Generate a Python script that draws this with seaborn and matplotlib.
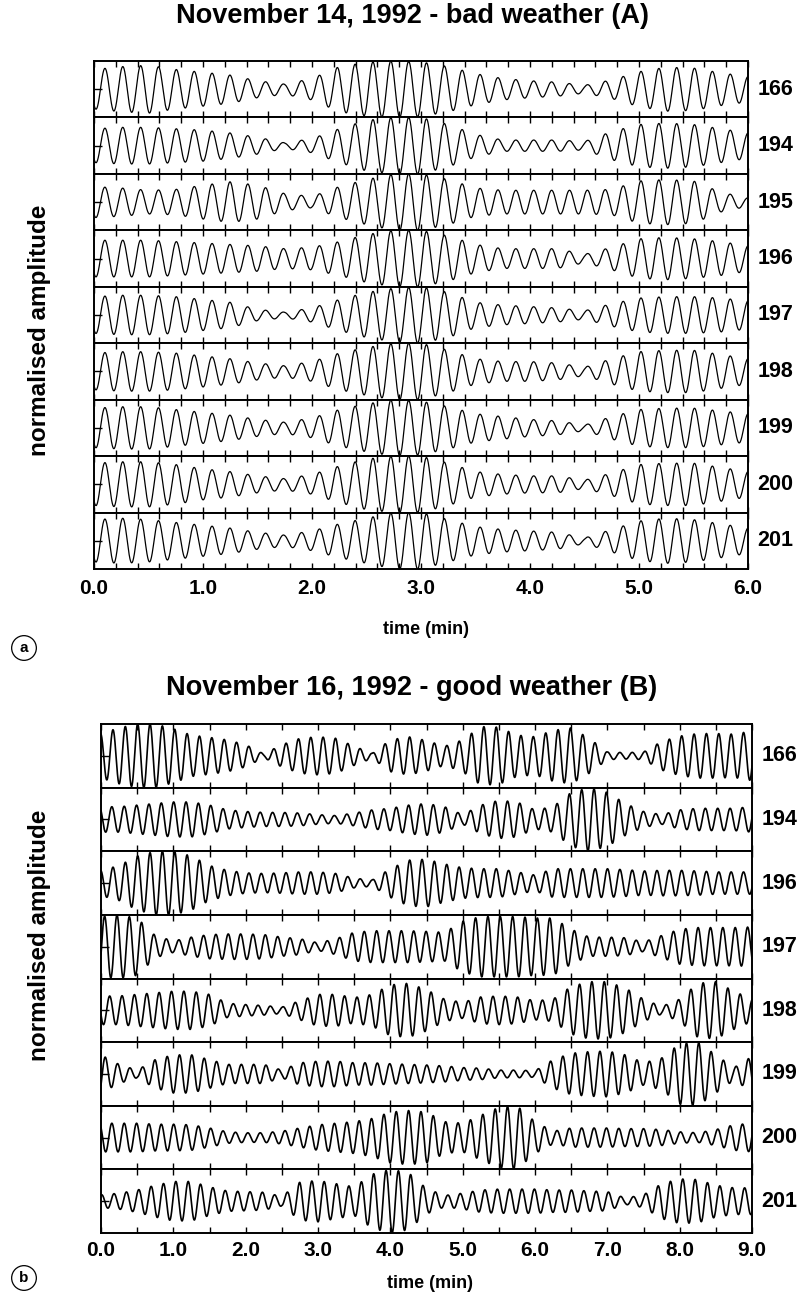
import numpy as np
import pandas as pd
import matplotlib
matplotlib.use("Agg")
import matplotlib.pyplot as plt
import seaborn as sns

sns.set_theme(style="white")
plt.rcParams['font.family'] = ['Liberation Sans', 'DejaVu Sans']
plt.rcParams['text.color'] = 'black'
plt.rcParams['axes.labelcolor'] = 'black'
plt.rcParams['xtick.color'] = 'black'
plt.rcParams['ytick.color'] = 'black'

# ---------------- Panel A : November 14, 1992 (bad weather) ----------------
title_a = "November 14, 1992 - bad weather (A)"
stations_a = ["166", "194", "195", "196", "197", "198", "199", "200", "201"]
times_a = np.linspace(0.0, 6.0, 25)          # envelope sample times (min)
freq_a = 6.1                                  # carrier, cycles per minute
first_peak_a = [0.10, 0.10, 0.10, 0.10, 0.10, 0.10, 0.10, 0.10, 0.10]

env_a_166 = [0.70, 0.80, 0.85, 0.70, 0.60, 0.50, 0.30, 0.18, 0.38, 0.80, 0.95, 1.00, 0.97,
             0.80, 0.55, 0.38, 0.30, 0.25, 0.14, 0.33, 0.62, 0.78, 0.75, 0.58, 0.45]
env_a_194 = [0.60, 0.65, 0.65, 0.60, 0.55, 0.45, 0.30, 0.10, 0.25, 0.60, 0.90, 1.00, 1.00,
             0.75, 0.40, 0.20, 0.20, 0.20, 0.15, 0.50, 0.75, 0.80, 0.75, 0.60, 0.45]
env_a_195 = [0.55, 0.50, 0.42, 0.45, 0.60, 0.72, 0.60, 0.30, 0.20, 0.55, 0.80, 1.00, 1.00,
             0.80, 0.50, 0.42, 0.42, 0.42, 0.42, 0.45, 0.75, 0.80, 0.75, 0.35, 0.15]
env_a_196 = [0.65, 0.65, 0.65, 0.60, 0.55, 0.50, 0.45, 0.35, 0.40, 0.60, 0.85, 1.00, 1.00,
             0.80, 0.50, 0.35, 0.35, 0.35, 0.15, 0.40, 0.70, 0.75, 0.70, 0.60, 0.45]
env_a_197 = [0.65, 0.70, 0.70, 0.65, 0.55, 0.45, 0.20, 0.10, 0.25, 0.55, 0.80, 0.95, 1.00,
             0.80, 0.45, 0.35, 0.30, 0.25, 0.15, 0.40, 0.60, 0.65, 0.65, 0.60, 0.50]
env_a_198 = [0.65, 0.70, 0.70, 0.65, 0.55, 0.45, 0.30, 0.20, 0.35, 0.65, 0.85, 1.00, 1.00,
             0.75, 0.45, 0.35, 0.35, 0.30, 0.15, 0.45, 0.70, 0.75, 0.75, 0.60, 0.45]
env_a_199 = [0.70, 0.75, 0.75, 0.65, 0.55, 0.45, 0.30, 0.20, 0.35, 0.65, 0.85, 1.00, 0.95,
             0.75, 0.50, 0.40, 0.30, 0.25, 0.10, 0.40, 0.65, 0.70, 0.70, 0.60, 0.50]
env_a_200 = [0.75, 0.80, 0.80, 0.70, 0.55, 0.45, 0.30, 0.20, 0.35, 0.65, 0.90, 1.00, 1.00,
             0.75, 0.45, 0.35, 0.30, 0.30, 0.15, 0.40, 0.70, 0.75, 0.75, 0.60, 0.45]
env_a_201 = [0.75, 0.80, 0.75, 0.65, 0.55, 0.45, 0.30, 0.20, 0.35, 0.60, 0.80, 1.00, 1.00,
             0.75, 0.50, 0.40, 0.35, 0.30, 0.10, 0.40, 0.70, 0.80, 0.75, 0.60, 0.45]
envs_a = [env_a_166, env_a_194, env_a_195, env_a_196, env_a_197,
          env_a_198, env_a_199, env_a_200, env_a_201]
xticks_a = [0.0, 1.0, 2.0, 3.0, 4.0, 5.0, 6.0]

# ---------------- Panel B : November 16, 1992 (good weather) ----------------
title_b = "November 16, 1992 - good weather (B)"
stations_b = ["166", "194", "196", "197", "198", "199", "200", "201"]
times_b = np.linspace(0.0, 9.0, 37)
freq_b = 5.85
first_peak_b = [0.165, 0.15, 0.165, 0.05, 0.12, 0.06, 0.15, 0.18]

env_b_166 = [0.70, 0.88, 1.00, 1.00, 0.85, 0.65, 0.58, 0.50, 0.35, 0.06, 0.35, 0.55, 0.60,
             0.55, 0.30, 0.08, 0.50, 0.60, 0.48, 0.30, 0.50, 0.92, 0.90, 0.65, 0.60, 0.80,
             0.88, 0.55, 0.12, 0.10, 0.12, 0.45, 0.62, 0.70, 0.70, 0.68, 0.78]
env_b_194 = [0.40, 0.40, 0.45, 0.50, 0.55, 0.55, 0.45, 0.30, 0.25, 0.22, 0.22, 0.20, 0.15,
             0.12, 0.20, 0.30, 0.35, 0.45, 0.50, 0.40, 0.15, 0.45, 0.60, 0.55, 0.30, 0.40,
             0.85, 1.00, 0.85, 0.50, 0.25, 0.15, 0.30, 0.35, 0.35, 0.35, 0.40]
env_b_196 = [0.40, 0.55, 0.85, 1.00, 1.00, 0.85, 0.55, 0.40, 0.32, 0.30, 0.32, 0.35, 0.35,
             0.30, 0.15, 0.10, 0.45, 0.72, 0.75, 0.60, 0.48, 0.45, 0.45, 0.35, 0.25, 0.45,
             0.45, 0.45, 0.45, 0.42, 0.38, 0.40, 0.40, 0.38, 0.35, 0.35, 0.35]
env_b_197 = [0.95, 1.00, 0.90, 0.35, 0.18, 0.30, 0.38, 0.40, 0.40, 0.38, 0.30, 0.25, 0.12,
             0.25, 0.45, 0.50, 0.50, 0.50, 0.48, 0.45, 0.80, 0.95, 0.95, 0.95, 0.90, 0.90,
             0.55, 0.30, 0.30, 0.28, 0.15, 0.35, 0.55, 0.60, 0.60, 0.60, 0.62]
env_b_198 = [0.45, 0.45, 0.50, 0.55, 0.60, 0.60, 0.50, 0.22, 0.18, 0.15, 0.10, 0.30, 0.50,
             0.50, 0.40, 0.50, 0.80, 0.85, 0.65, 0.35, 0.25, 0.42, 0.45, 0.42, 0.30, 0.35,
             0.75, 0.90, 0.90, 0.70, 0.35, 0.12, 0.35, 0.85, 0.90, 0.60, 0.35]
env_b_199 = [0.60, 0.30, 0.12, 0.45, 0.60, 0.60, 0.45, 0.30, 0.30, 0.30, 0.12, 0.35, 0.40,
             0.40, 0.35, 0.35, 0.32, 0.30, 0.28, 0.25, 0.20, 0.18, 0.12, 0.12, 0.10, 0.45,
             0.65, 0.70, 0.72, 0.60, 0.35, 0.50, 0.95, 1.00, 0.60, 0.20, 0.55]
env_b_200 = [0.45, 0.45, 0.45, 0.42, 0.42, 0.40, 0.30, 0.18, 0.15, 0.15, 0.20, 0.30, 0.40,
             0.45, 0.50, 0.60, 0.80, 0.85, 0.80, 0.50, 0.45, 0.70, 0.95, 1.00, 0.50, 0.20,
             0.30, 0.30, 0.30, 0.28, 0.28, 0.25, 0.18, 0.15, 0.25, 0.40, 0.45]
env_b_201 = [0.20, 0.25, 0.35, 0.50, 0.62, 0.62, 0.45, 0.32, 0.30, 0.28, 0.15, 0.60, 0.65,
             0.55, 0.45, 0.85, 1.00, 0.90, 0.40, 0.18, 0.25, 0.35, 0.38, 0.38, 0.38, 0.35,
             0.35, 0.32, 0.30, 0.10, 0.20, 0.55, 0.70, 0.68, 0.50, 0.42, 0.42]
envs_b = [env_b_166, env_b_194, env_b_196, env_b_197, env_b_198,
          env_b_199, env_b_200, env_b_201]
xticks_b = [0.0, 1.0, 2.0, 3.0, 4.0, 5.0, 6.0, 7.0, 8.0, 9.0]

ylabel = "normalised amplitude"
xlabel = "time (min)"


def build_frame(stations, envs, times, freq, first_peaks, tmax):
    t = np.linspace(0.0, tmax, 4000)
    rows = []
    for st, env, t0 in zip(stations, envs, first_peaks):
        e = np.interp(t, times, env)
        amp = 0.5 * e * np.cos(2 * np.pi * freq * (t - t0))
        rows.append(pd.DataFrame({"station": st, "time": t, "amp": amp}))
    return pd.concat(rows, ignore_index=True)


def draw_panel(fig, rect, stations, df, tmax, tick_step, xticks, lw, tick_pad):
    left, bottom, width, height = rect
    n = len(stations)
    h = height / n
    axes = []
    for i, st in enumerate(stations):
        ax = fig.add_axes([left, bottom + (n - 1 - i) * h, width, h])
        sub = df[df["station"] == st]
        sns.lineplot(data=sub, x="time", y="amp", ax=ax, color="black",
                     linewidth=lw, estimator=None, legend=False)
        ax.set_xlim(0, tmax)
        ax.set_ylim(-0.5, 0.5)
        ticks = np.round(np.arange(0, tmax + 1e-9, tick_step), 3)
        ax.set_xticks(ticks)
        labs = [f"{v:.1f}" if any(abs(v - x) < 1e-6 for x in xticks) else "" for v in ticks]
        ax.set_xticklabels(labs, fontsize=15, fontweight="bold")
        ax.set_yticks([0])
        ax.set_yticklabels([])
        ax.tick_params(axis="x", direction="in", length=4, width=1.0, color="black",
                       top=True, bottom=True, labelbottom=(i == n - 1), pad=tick_pad)
        ax.tick_params(axis="y", direction="in", length=6, width=1.0, color="black",
                       left=True, right=False)
        ax.set_xlabel("")
        ax.set_ylabel("")
        for sp in ax.spines.values():
            sp.set_color("black")
            sp.set_linewidth(1.4)
            sp.set_visible(True)
        ax.annotate(st, xy=(1.0, 0.5), xycoords="axes fraction", xytext=(7, 0),
                    textcoords="offset points", ha="left", va="center",
                    fontsize=15.5, fontweight="bold", annotation_clip=False)
        axes.append(ax)
    return axes


fig = plt.figure(figsize=(8.0, 13.03), dpi=100)
W, H = 800.0, 1303.0

df_a = build_frame(stations_a, envs_a, times_a, freq_a, first_peak_a, 6.0)
df_b = build_frame(stations_b, envs_b, times_b, freq_b, first_peak_b, 9.0)

rect_a = [94 / W, 1 - 569 / H, 654 / W, 508 / H]
rect_b = [101 / W, 1 - 1233 / H, 651 / W, 509 / H]

draw_panel(fig, rect_a, stations_a, df_a, 6.0, 0.2, xticks_a, 0.9, 7)
draw_panel(fig, rect_b, stations_b, df_b, 9.0, 0.5, xticks_b, 1.2, 6)

fig.text(412 / W, 1 - 16 / H, title_a, ha="center", va="center",
         fontsize=19.5, fontweight="bold")
fig.text(412 / W, 1 - 688 / H, title_b, ha="center", va="center",
         fontsize=19.5, fontweight="bold")

fig.text(426 / W, 1 - 629 / H, xlabel, ha="center", va="center",
         fontsize=13, fontweight="bold")
fig.text(430 / W, 1 - 1284 / H, xlabel, ha="center", va="center",
         fontsize=13, fontweight="bold")

fig.text(40 / W, 1 - 330 / H, ylabel, ha="center", va="center", rotation=90,
         fontsize=17.5, fontweight="bold")
fig.text(40 / W, 1 - 935 / H, ylabel, ha="center", va="center", rotation=90,
         fontsize=17.5, fontweight="bold")

circ = dict(boxstyle="circle,pad=0.35", fc="white", ec="black", lw=0.9)
fig.text(24 / W, 1 - 648 / H, "a", ha="center", va="center", fontsize=11,
         fontweight="bold", bbox=circ)
fig.text(24 / W, 1 - 1278 / H, "b", ha="center", va="center", fontsize=11,
         fontweight="bold", bbox=circ)

fig.savefig("out.png", dpi=100, facecolor="white")
